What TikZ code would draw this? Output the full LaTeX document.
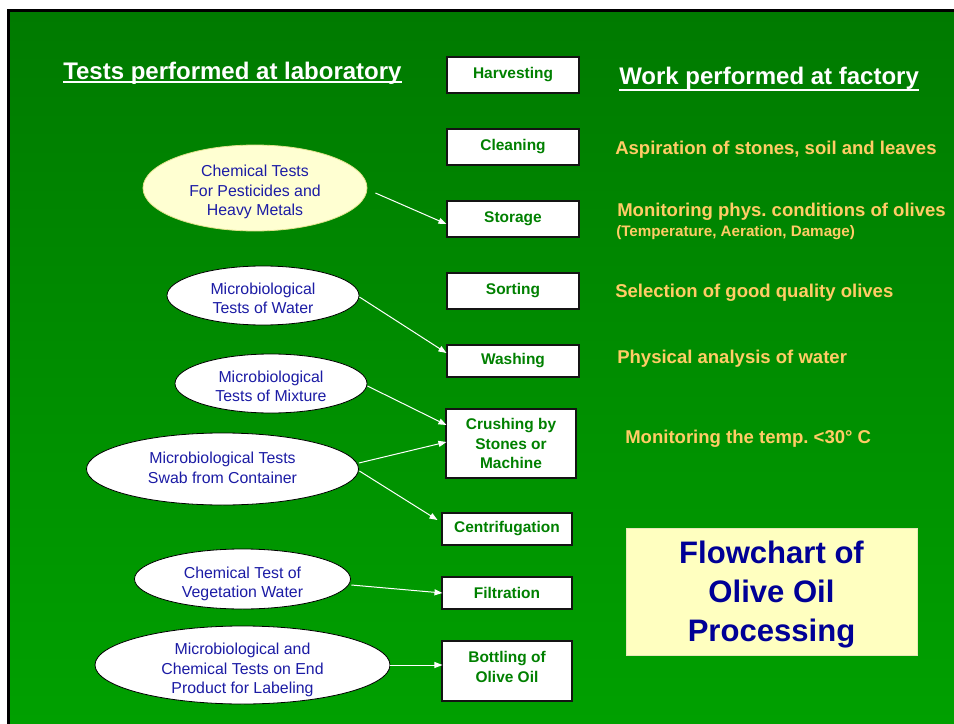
\documentclass[tikz,border=0pt]{standalone}
\usepackage{fontspec}
\setmainfont{Liberation Sans}
\frenchspacing
\usetikzlibrary{arrows.meta,shapes.geometric,calc}
\definecolor{bgtop}{RGB}{0,122,0}
\definecolor{bgbot}{RGB}{0,160,0}
\definecolor{boxgreen}{RGB}{0,128,0}
\definecolor{boxline}{RGB}{20,20,20}
\definecolor{ellblue}{RGB}{28,28,165}
\definecolor{titleblue}{RGB}{0,0,150}
\definecolor{noteorange}{RGB}{255,204,102}
\definecolor{ylfill}{RGB}{255,255,192}
\definecolor{ylline}{RGB}{232,232,185}
\definecolor{eonefill}{RGB}{255,255,210}
\definecolor{eoneline}{RGB}{225,225,140}
\begin{document}
\begin{tikzpicture}[x=0.75pt,y=-0.75pt,
  box/.style={draw=boxline, line width=0.8pt, fill=white, minimum width=99pt,
    minimum height=27pt, inner sep=0pt, align=center,
    font=\fontsize{11.6}{14.6}\selectfont\bfseries, text=boxgreen},
  ell/.style={ellipse, draw=black, line width=0.6pt, fill=white, inner sep=0pt},
  elltxt/.style={align=center, font=\fontsize{11.9}{14.6}\selectfont, text=ellblue},
  note/.style={anchor=base west, inner sep=0pt,
    font=\fontsize{13.9}{16}\selectfont\bfseries, text=noteorange},
  headline/.style={anchor=base west, inner sep=0pt,
    font=\fontsize{18}{20}\selectfont\bfseries, text=white},
  arr/.style={white, line width=0.75pt, -{Triangle[length=6pt,width=4.5pt]}}]
\useasboundingbox (0,0) rectangle (954,724);
\fill[white] (0,0) rectangle (954,724);
\shade[top color=bgtop, bottom color=bgbot] (10,12) rectangle (954,724);
\fill[black] (7,9) rectangle (954,12);
\fill[black] (7,9) rectangle (10,724);

% headings
\node[headline] (labt) at (63,79.3) {Tests performed at laboratory};
\draw[white, line width=1.4pt] ($(labt.base west)+(0,3)$) -- ($(labt.base east)+(0,3)$);
\node[headline] (fact) at (619,85) {Work performed at factory};
\draw[white, line width=1.4pt] ($(fact.base west)+(0,5)$) -- ($(fact.base east)+(0,5)$);

% process boxes
\node[box] (harv) at (513,75) {Harvesting};
\node[box] (clean) at (513,147) {Cleaning};
\node[box] (stor) at (513,219) {Storage};
\node[box] (sort) at (513,291) {Sorting};
\node[box, minimum height=24pt] (wash) at (513,361) {Washing};
\node[box, minimum width=97.5pt, minimum height=51.75pt] (crush) at (511,443.5) {Crushing by\\Stones or\\Machine};
\node[box, minimum width=97.5pt, minimum height=24pt] (centr) at (507,529) {Centrifugation};
\node[box, minimum width=97.5pt, minimum height=24pt] (filt) at (507,593) {Filtration};
\node[box, minimum width=97.5pt, minimum height=45pt,
  label={[box, draw=none, fill=none, minimum width=0pt, minimum height=0pt, yshift=3pt]center:Bottling of\\Olive Oil}] (bottle) at (507,671) {};

% laboratory tests
\node[ell, fill=eonefill, draw=eoneline, minimum width=168pt, minimum height=64.5pt,
  label={[elltxt, yshift=-3pt]center:Chemical Tests\\For Pesticides and\\Heavy Metals}] (e1) at (255,188) {};
\node[ell, minimum width=144pt, minimum height=44.25pt,
  label={[elltxt, yshift=-2.25pt]center:Microbiological\\Tests of Water}] (e2) at (263,295.5) {};
\node[ell, minimum width=144pt, minimum height=44.25pt,
  label={[elltxt, yshift=-2.25pt]center:Microbiological\\Tests of Mixture}] (e3) at (271,383.5) {};
\node[ell, minimum width=204pt, minimum height=54pt,
  label={[elltxt, yshift=0.75pt]center:Microbiological Tests\\Swab from Container}] (e4) at (222.5,469) {};
\node[ell, minimum width=162pt, minimum height=45pt,
  label={[elltxt, yshift=-3.75pt]center:Chemical Test of\\Vegetation Water}] (e5) at (242.5,579) {};
\node[ell, minimum width=221.25pt, minimum height=58.5pt,
  label={[elltxt, yshift=-3.75pt]center:Microbiological and\\Chemical Tests on End\\Product for Labeling}] (e6) at (242.5,665) {};

% connectors
\draw[arr] ($(e1.east)+(8,5)$) -- ($(stor.west)+(0,5)$);
\draw[arr] ($(e2.east)+(0,1.5)$) -- ($(wash.west)+(0,-8)$);
\draw[arr] ($(e3.east)+(0,2.5)$) -- ($(crush.west)+(1,-18.5)$);
\draw[arr] ($(e4.east)+(0,-6)$) -- ($(crush.west)+(1,-1.5)$);
\draw[arr] ($(e4.east)+(0.5,2)$) -- ($(centr.west)+(-4,-9)$);
\draw[arr] ($(e5.east)+(0.5,6)$) -- ($(filt.west)+(1,0)$);
\draw[arr] (e6.east) -- ($(bottle.west)+(1,-6)$);

% factory work
\node[note] (n1) at (615,155) {Aspiration of stones, soil and leaves};
\node[note] (n2) at (617,216.7) {Monitoring phys. conditions of olives};
\node[note, font=\fontsize{11.4}{13}\selectfont\bfseries] (n2b) at (616,236.7) {(Temperature, Aeration, Damage)};
\node[note] (n3) at (615,297.7) {Selection of good quality olives};
\node[note] (n4) at (617,363.3) {Physical analysis of water};
\node[note] (n5) at (625,443.3) {Monitoring the temp. <30° C};

% title box
\node[draw=ylline, fill=ylfill, line width=0.6pt, minimum width=218.25pt, minimum height=95.25pt,
  inner sep=0pt,
  label={[align=center, inner sep=0pt, yshift=-2.25pt, font=\fontsize{23.3}{29.2}\selectfont\bfseries, text=titleblue]center:Flowchart of\\Olive Oil\\Processing}]
  (title) at (771.5,591.5) {};
\end{tikzpicture}
\end{document}
